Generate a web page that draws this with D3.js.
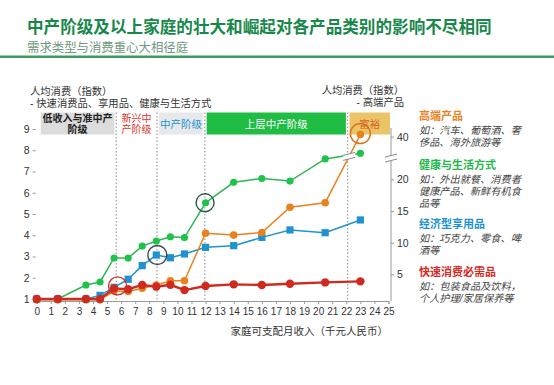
<!DOCTYPE html>
<html lang="zh-CN"><head><meta charset="utf-8">
<script src="https://cdn.jsdelivr.net/npm/d3@7"></script>
<style>
body{margin:0;background:#fff;}
svg{display:block;font-family:"Liberation Sans","Noto Sans CJK SC",sans-serif;}
</style></head><body>
<svg id="c" width="554" height="385"></svg>
<script>
// ---- data ----
const incomes = [0, 1.5, 3.5, 4.5, 5.5, 6.5, 7.5, 8.5, 9.5, 10.5, 12, 14, 16, 18, 20.5, 23];
const healthVals  = [1, 1, 1.66, 1.8, 2.93, 2.93, 3.49, 3.73, 3.93, 3.89, 5.53, 6.49, 6.67, 6.55, 7.59, 7.86];
const economyVals = [1, 1, 1, 1.17, 1.55, 1.93, 2.57, 3.07, 2.94, 3.12, 3.43, 3.51, 3.9, 4.25, 4.12, 4.72];
const fmcgVals    = [1, 1, 1, 1, 1.5, 1.46, 1.66, 1.58, 1.67, 1.42, 1.61, 1.69, 1.66, 1.72, 1.78, 1.83];
const premiumVals = [1, 1, 1, 1, 2.35, 2.3, 2.8, 3.3, 4.0, 4.0, 11.5, 11.2, 11.6, 15.6, 16.3, 41];
const xTicks = d3.range(0, 26);
const leftTicks = d3.range(1, 10);
const rightTicks = [5, 10, 15, 20, 40];
const bandEdges = [0, 5.65, 8.55, 11.95, 22.1, 25];
const bandLabels = [["低收入与准中产","阶级"], ["新兴中","产阶级"], ["中产阶级"], ["上层中产阶级"], ["富裕"]];
const dividers = [5.65, 8.55, 11.95, 22.1];
const leftAxisTitle = ["人均消费（指数）", "- 快速消费品、享用品、健康与生活方式"];
const rightAxisTitle = ["人均消费（指数）", "- 高端产品"];
const legendItems = [
  {title:"高端产品", lines:["如：汽车、葡萄酒、奢","侈品、海外旅游等"]},
  {title:"健康与生活方式", lines:["如：外出就餐、消费者","健康产品、新鲜有机食","品等"]},
  {title:"经济型享用品", lines:["如：巧克力、零食、啤","酒等"]},
  {title:"快速消费必需品", lines:["如：包装食品及饮料，","个人护理/家居保养等"]}
];

// ---- styles ----
const C = {green:"#2fb653", greenPt:"#1fc24a", blue:"#1e93cf", red:"#cf2a1f", orange:"#e8821e"};
const bandFill = ["#dcdcdc", "#ffffff", "#e6e8ea", "#1fbd43", "#e9c567"];
const bandText = ["#222", "#e0332a", "#1e93cf", "#ffffff", "#d8641e"];
const legendColors = [C.orange, "#22b94a", C.blue, "#d8281e"];

const svg = d3.select("#c");
const x = d3.scaleLinear().domain([0, 25]).range([36.7, 388.5]);
const yL = d3.scaleLinear().domain([1, 9]).range([299, 129]);
const yR = d3.scaleLinear().domain([0, 20, 40]).range([306, 179.4, 136.7]);
const axisY = 301;

// multi-line text helper (one text element, tspans)
function multi(xp, yp, lines, lh, attrs, anchor) {
  const t = svg.append("text").attr("x", xp).attr("y", yp).attr("text-anchor", anchor || "start");
  Object.entries(attrs).forEach(([k, v]) => t.attr(k, v));
  lines.forEach((l, j) => t.append("tspan").attr("x", xp).attr("dy", j === 0 ? 0 : lh).text(l));
  return t;
}

// title
svg.append("text").attr("x", 27).attr("y", 32.5).attr("font-size", 16.6).attr("font-weight", "bold")
  .attr("fill", "#17884a").text("中产阶级及以上家庭的壮大和崛起对各产品类别的影响不尽相同");
svg.append("text").attr("x", 27).attr("y", 51.5).attr("font-size", 12.4)
  .attr("fill", "#6f9a80").text("需求类型与消费重心大相径庭");
svg.append("rect").attr("x", 0).attr("y", 55.5).attr("width", 554).attr("height", 2.5).attr("fill", "#3a9d5e");

// axis titles
multi(30, 94.5, leftAxisTitle, 12.2, {"font-size": 10.3, fill: "#333"});
multi(404, 93.5, rightAxisTitle, 12.2, {"font-size": 10.3, fill: "#333"}, "end");

// bands
const bandTop = 112.5, bandH = 22;
bandLabels.forEach((lab, i) => {
  const x0 = (i === 0 ? x(bandEdges[i]) + 4 : x(bandEdges[i]) + 1.8);
  const x1 = (i === bandLabels.length - 1 ? x(bandEdges[i + 1]) + 1.5 : x(bandEdges[i + 1]) - 1.8);
  svg.append("rect").attr("x", x0).attr("y", bandTop).attr("width", x1 - x0).attr("height", bandH).attr("fill", bandFill[i]);
  const cx = (x0 + x1) / 2;
  const yy = lab.length === 1 ? bandTop + 15 : bandTop + 9.3;
  multi(cx, yy, lab, 11.6, {"font-size": lab.length === 1 ? 10.5 : 10, "font-weight": i === 0 ? "bold" : "normal", fill: bandText[i]}, "middle");
});

// dividers
dividers.forEach(d => {
  svg.append("line").attr("x1", x(d)).attr("x2", x(d)).attr("y1", bandTop).attr("y2", axisY)
    .attr("stroke", "#888").attr("stroke-width", 1).attr("stroke-dasharray", "1.5,2");
});

// x axis
const gx = svg.append("g").attr("transform", `translate(0,${axisY})`)
  .call(d3.axisBottom(x).tickValues(xTicks).tickSize(3).tickPadding(4).tickFormat(d3.format("d")));
gx.select(".domain").attr("stroke", "#999");
gx.selectAll(".tick line").attr("stroke", "#999");
gx.selectAll("text").attr("font-size", 10).attr("fill", "#333").attr("font-family", "Liberation Sans, Arial, sans-serif");
svg.append("text").attr("x", 388).attr("y", 335).attr("text-anchor", "end").attr("font-size", 10.5).attr("fill", "#333")
  .text("家庭可支配月收入（千元人民币）");

// left axis
const gl = svg.append("g").attr("transform", `translate(${x(0) - 1},0)`)
  .call(d3.axisLeft(yL).tickValues(leftTicks).tickSize(3).tickPadding(3).tickFormat(d3.format("d")));
gl.select(".domain").attr("stroke-width", 0);
gl.selectAll(".tick line").attr("stroke", "#999");
gl.selectAll("text").attr("font-size", 10.5).attr("fill", "#333").attr("font-family", "Liberation Sans, Arial, sans-serif");

// right axis
const rx = x(25) + 2.5;
svg.append("line").attr("x1", rx).attr("x2", rx).attr("y1", 128).attr("y2", axisY).attr("stroke", "#999");
const gr = svg.append("g").attr("transform", `translate(${rx},0)`)
  .call(d3.axisRight(yR).tickValues(rightTicks).tickSize(3).tickPadding(3).tickFormat(d3.format("d")));
gr.select(".domain").remove();
gr.selectAll(".tick line").attr("stroke", "#999");
gr.selectAll("text").attr("font-size", 10.5).attr("fill", "#333").attr("font-family", "Liberation Sans, Arial, sans-serif");
// break marks
function breakMark(cx, cy) {
  const g = svg.append("g").attr("transform", `translate(${cx},${cy})`);
  g.append("path").attr("d", "M-6,-1 L6,-4 L6,1 L-6,4 Z").attr("fill", "#fff");
  g.append("line").attr("x1", -6).attr("y1", -1).attr("x2", 6).attr("y2", -4).attr("stroke", "#888");
  g.append("line").attr("x1", -6).attr("y1", 4).attr("x2", 6).attr("y2", 1).attr("stroke", "#888");
}
breakMark(rx, yR(30));

// series
function series(vals, scale, color, ptColor, width, shape, size) {
  const pts = incomes.map((d, i) => [x(d), scale(vals[i])]);
  svg.append("path").attr("d", d3.line()(pts)).attr("fill", "none").attr("stroke", color).attr("stroke-width", width);
  const g = svg.append("g");
  pts.forEach(p => {
    if (shape === "square") {
      g.append("rect").attr("x", p[0] - size).attr("y", p[1] - size).attr("width", size * 2).attr("height", size * 2).attr("fill", ptColor);
    } else {
      g.append("circle").attr("cx", p[0]).attr("cy", p[1]).attr("r", size).attr("fill", ptColor);
    }
  });
  return pts;
}
const gPts = series(healthVals, yL, C.green, C.greenPt, 1.5, "circle", 3.6);
const bPts = series(economyVals, yL, C.blue, C.blue, 1.5, "square", 3.6);
const oPts = series(premiumVals, yR, C.orange, C.orange, 1.5, "circle", 3.8);
const rPts = series(fmcgVals, yL, C.red, C.red, 2.4, "circle", 4.2);

// break on orange line
(function () {
  const p0 = oPts[oPts.length - 2], p1 = oPts[oPts.length - 1];
  const t = 0.68;
  breakMark(p0[0] + (p1[0] - p0[0]) * t, p0[1] + (p1[1] - p0[1]) * t);
})();

// highlight rings
function ring(p, color, dx, dy, r) {
  svg.append("circle").attr("cx", p[0] + dx).attr("cy", p[1] + dy).attr("r", r)
    .attr("fill", "none").attr("stroke", color).attr("stroke-width", 1.4);
}
ring(rPts[4], "#d0302a", 3.5, -2.5, 9);
ring(bPts[7], "#3a4a5a", 1, 0, 9.5);
ring(gPts[10], "#2a5a4a", -0.5, 0, 9);
ring(oPts[15], "#d9731e", 0, -1, 10);

// legend
const lx = 419;
const legendY = [120, 169, 228, 276];
legendItems.forEach((it, i) => {
  svg.append("text").attr("x", lx).attr("y", legendY[i]).attr("font-size", 11).attr("font-weight", "bold")
    .attr("fill", legendColors[i]).text(it.title);
  multi(lx, legendY[i] + 14, it.lines, 12, {"font-size": 10.2, "font-style": "italic", fill: "#444"});
});
</script>
</body></html>
